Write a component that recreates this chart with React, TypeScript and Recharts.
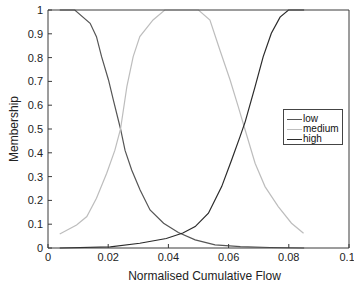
import React from 'react';
import { LineChart, Line, XAxis, YAxis } from 'recharts';

// membership curves (x = normalised cumulative flow)
const lowX = [0.0039, 0.0089, 0.014, 0.0161, 0.0178, 0.0201, 0.0217, 0.0241, 0.0256, 0.0278, 0.0306, 0.0339, 0.0384, 0.0433, 0.0489, 0.0555, 0.0639, 0.0738, 0.0851];
const lowY = [1, 1, 0.944, 0.888, 0.804, 0.706, 0.622, 0.5, 0.41, 0.328, 0.244, 0.16, 0.104, 0.065, 0.034, 0.013, 0.006, 0.002, 0];

const mediumX = [0.0039, 0.0095, 0.0129, 0.0161, 0.0195, 0.0222, 0.0241, 0.0262, 0.0283, 0.0305, 0.0349, 0.0388, 0.05, 0.0538, 0.0571, 0.0605, 0.0632, 0.0654, 0.0688, 0.0721, 0.0765, 0.0809, 0.0849];
const mediumY = [0.059, 0.097, 0.132, 0.209, 0.314, 0.41, 0.5, 0.678, 0.804, 0.888, 0.958, 1, 1, 0.958, 0.832, 0.706, 0.594, 0.5, 0.356, 0.258, 0.174, 0.104, 0.062];

const highX = [0.0039, 0.0207, 0.0305, 0.0393, 0.0448, 0.0489, 0.0533, 0.0577, 0.061, 0.0638, 0.0655, 0.0688, 0.0715, 0.0742, 0.0771, 0.0799, 0.0851];
const highY = [0, 0.005, 0.02, 0.04, 0.063, 0.09, 0.146, 0.258, 0.37, 0.468, 0.53, 0.678, 0.804, 0.902, 0.97, 1, 1];

const xTicks = [0, 0.02, 0.04, 0.06, 0.08, 0.1];
const yTicks = [0, 0.1, 0.2, 0.3, 0.4, 0.5, 0.6, 0.7, 0.8, 0.9, 1];

const seriesNames = ['low', 'medium', 'high'];
const seriesColors = ['#555555', '#bdbdbd', '#2b2b2b'];

const toPoints = (xs: number[], ys: number[]) => xs.map((x, i) => ({ x, y: ys[i] }));

const series = [
  toPoints(lowX, lowY),
  toPoints(mediumX, mediumY),
  toPoints(highX, highY),
];

const font = '"Liberation Sans", Arial, sans-serif';
const axisColor = '#3a3a3a';

export default function App() {
  return (
    <div style={{ position: 'absolute', left: 0, top: 0, width: 354, height: 283, background: '#fff', fontFamily: font }}>
      <LineChart width={354} height={283} margin={{ top: 9, right: 4, bottom: 0, left: 0 }}>
        <XAxis
          dataKey="x"
          type="number"
          domain={[0, 0.1]}
          ticks={xTicks}
          allowDataOverflow
          height={35}
          stroke={axisColor}
          tickSize={-4}
          tickMargin={9}
          tick={{ fill: '#222', fontSize: 11, fontFamily: font }}
          label={{ value: 'Normalised Cumulative Flow', position: 'insideBottom', offset: 3, dx: 6, fill: '#222', fontSize: 12, fontFamily: font }}
        />
        <XAxis
          xAxisId="top"
          orientation="top"
          type="number"
          domain={[0, 0.1]}
          ticks={xTicks}
          height={1}
          stroke={axisColor}
          tickSize={-4}
          tick={false}
        />
        <YAxis
          type="number"
          domain={[0, 1]}
          ticks={yTicks}
          width={48}
          stroke={axisColor}
          tickSize={-4}
          tickMargin={9}
          tick={{ fill: '#222', fontSize: 11, fontFamily: font }}
          label={{ value: 'Membership', angle: -90, position: 'insideLeft', offset: 14, fill: '#222', fontSize: 12, fontFamily: font, style: { textAnchor: 'middle' } }}
        />
        <YAxis
          yAxisId="right"
          orientation="right"
          type="number"
          domain={[0, 1]}
          ticks={yTicks}
          width={1}
          stroke={axisColor}
          tickSize={-4}
          tick={false}
        />
        {series.map((data, i) => (
          <Line
            key={seriesNames[i]}
            data={data}
            dataKey="y"
            type="linear"
            stroke={seriesColors[i]}
            strokeWidth={1.2}
            dot={false}
            activeDot={false}
            isAnimationActive={false}
          />
        ))}
      </LineChart>

      {/* MATLAB style legend box */}
      <div
        style={{
          position: 'absolute',
          left: 283,
          top: 109,
          width: 60,
          height: 36,
          boxSizing: 'border-box',
          border: '1px solid #444',
          background: '#fff',
        }}
      >
        {seriesNames.map((name, i) => {
          const cy = 8.5 + i * 10;
          return (
            <React.Fragment key={name}>
              <div style={{ position: 'absolute', left: 3, top: cy, width: 15, height: 1.2, background: seriesColors[i] }} />
              <div
                style={{
                  position: 'absolute',
                  left: 19,
                  top: cy - 5,
                  height: 10,
                  fontSize: 10,
                  lineHeight: '10px',
                  color: '#111',
                  whiteSpace: 'nowrap',
                }}
              >
                {name}
              </div>
            </React.Fragment>
          );
        })}
      </div>
    </div>
  );
}
